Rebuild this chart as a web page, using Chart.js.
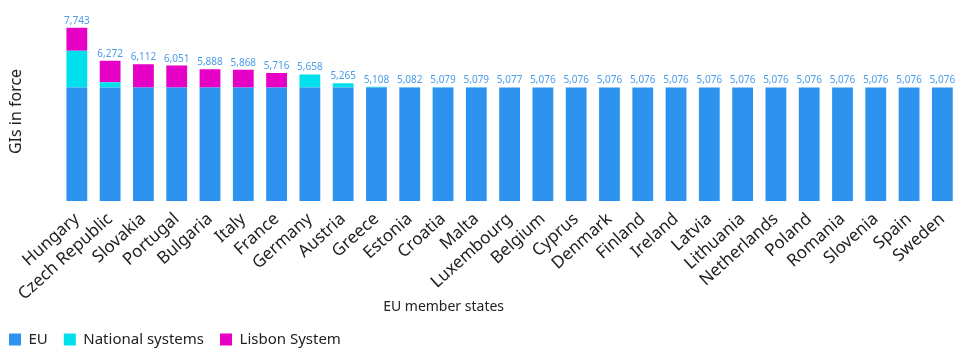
<!DOCTYPE html>
<html>
<head>
<meta charset="utf-8">
<script src="https://cdn.jsdelivr.net/npm/chart.js@4.4.1/dist/chart.umd.min.js"></script>
<style>
  html, body { margin: 0; padding: 0; background: #fff; }
  #wrap { width: 973px; height: 357px; position: relative; }
</style>
</head>
<body>
<div id="wrap"><canvas id="c"></canvas></div>
<script>
const categories = ["Hungary","Czech Republic","Slovakia","Portugal","Bulgaria","Italy","France","Germany","Austria","Greece","Estonia","Croatia","Malta","Luxembourg","Belgium","Cyprus","Denmark","Finland","Ireland","Latvia","Lithuania","Netherlands","Poland","Romania","Slovenia","Spain","Sweden"];
const euValues       = [5076,5076,5076,5076,5076,5076,5076,5076,5076,5076,5076,5076,5076,5076,5076,5076,5076,5076,5076,5076,5076,5076,5076,5076,5076,5076,5076];
const nationalValues = [1640,230,0,0,0,0,0,582,189,32,6,3,3,1,0,0,0,0,0,0,0,0,0,0,0,0,0];
const lisbonValues   = [1027,966,1036,975,812,792,640,0,0,0,0,0,0,0,0,0,0,0,0,0,0,0,0,0,0,0,0];
const seriesNames = ["EU","National systems","Lisbon System"];
const seriesColors = ["#2e93ee","#00e0ec","#e600c6"];
const xTitle = "EU member states";
const yTitle = "GIs in force";
const FONT = "'Noto Sans', 'Open Sans', sans-serif";

const totalsPlugin = {
  id: 'totals',
  afterDatasetsDraw(chart) {
    const ctx = chart.ctx;
    const n = chart.data.datasets.length;
    const topMeta = chart.getDatasetMeta(n - 1);
    ctx.save();
    ctx.font = "10px " + FONT;
    ctx.fillStyle = "#4a9cec";
    ctx.textAlign = "center";
    ctx.textBaseline = "alphabetic";
    topMeta.data.forEach((el, i) => {
      let total = 0;
      chart.data.datasets.forEach(ds => total += ds.data[i]);
      ctx.fillText(total.toLocaleString('en-US'), el.x, el.y - 4);
    });
    ctx.restore();
  }
};

const xTitlePlugin = {
  id: 'xtitle',
  afterDraw(chart) {
    const ctx = chart.ctx;
    const a = chart.chartArea;
    ctx.save();
    ctx.font = "14px " + FONT;
    ctx.fillStyle = "#222";
    ctx.textAlign = "center";
    ctx.textBaseline = "middle";
    ctx.fillText(xTitle, (a.left + a.right) / 2 - 66, 307);
    ctx.restore();
  }
};

const legendShift = {
  id: 'legendShift',
  afterLayout(chart) {
    const lg = chart.legend;
    if (!lg) return;
    const dx = -7, dy = 316 - lg.top;
    lg.left += dx; lg.right += dx;
    lg.top += dy; lg.bottom += dy;
  }
};

new Chart(document.getElementById('c'), {
  type: 'bar',
  data: {
    labels: categories,
    datasets: [
      { label: seriesNames[0], data: euValues, backgroundColor: seriesColors[0] },
      { label: seriesNames[1], data: nationalValues, backgroundColor: seriesColors[1] },
      { label: seriesNames[2], data: lisbonValues, backgroundColor: seriesColors[2] }
    ]
  },
  options: {
    responsive: true,
    maintainAspectRatio: false,
    animation: false,
    datasets: { bar: { barPercentage: 0.625, categoryPercentage: 1.0 } },
    layout: { padding: { top: 22, right: 14, left: 0, bottom: 0 } },
    plugins: {
      legend: {
        position: 'bottom',
        align: 'start',
        labels: { boxWidth: 12, boxHeight: 12, padding: 16, color: '#222', font: { family: FONT, size: 15 } }
      },
      tooltip: { enabled: false }
    },
    scales: {
      x: {
        stacked: true,
        grid: { display: false },
        border: { display: false },
        ticks: { color: '#222', font: { family: FONT, size: 17 }, minRotation: 42, maxRotation: 42, autoSkip: false, padding: 0 },
        afterFit(scale) {
          scale.paddingLeft = 0;
          scale.paddingRight = 0;
          scale.height = 115;
        }
      },
      y: {
        stacked: true,
        min: 0,
        max: 8000,
        grid: { display: false },
        border: { display: false },
        ticks: { display: false },
        title: { display: true, text: yTitle, color: '#222', font: { family: FONT, size: 16 }, padding: { top: 7, bottom: 26 } }
      }
    }
  },
  plugins: [totalsPlugin, xTitlePlugin, legendShift]
});
</script>
</body>
</html>
